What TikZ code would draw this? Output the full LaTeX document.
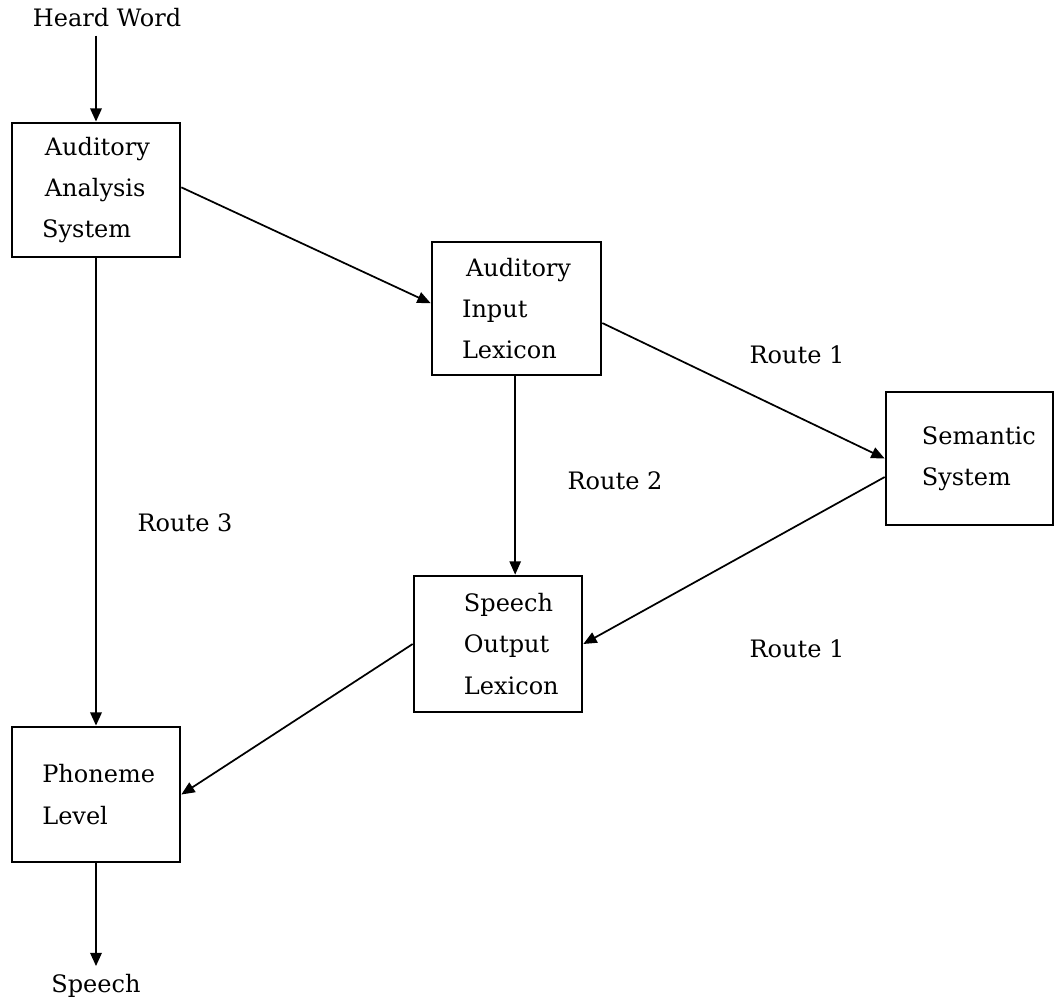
\documentclass[tikz,border=0pt]{standalone}
\usepackage{fontspec}
\setmainfont{DejaVu Serif}
\usetikzlibrary{arrows.meta}
\begin{document}
\begin{tikzpicture}[x=0.75pt,y=-0.75pt,
  every node/.style={font=\fontsize{18pt}{31pt}\selectfont},
  box/.style={draw=black,line width=2pt,rectangle,align=left,inner sep=0pt},
  txt/.style={inner sep=0pt},
  arr/.style={line width=1.3pt,-{Triangle[length=10pt,width=8.5pt]}},
  varr/.style={line width=1.8pt,-{Triangle[length=10pt,width=8.5pt]}}]
\useasboundingbox (0,0) rectangle (1056,1001);
\fill[white] (0,0) rectangle (1056,1001);
\node[box,minimum width=126pt,minimum height=100.5pt] (aas) at (96,190) {\hspace*{2pt}Auditory\\\hspace*{2pt}Analysis\\System};
\node[box,minimum width=126.75pt,minimum height=99.75pt] (ail) at (516.5,308.5) {\hspace*{3pt}Auditory\\Input\\Lexicon};
\node[box,minimum width=125.25pt,minimum height=99.75pt] (sem) at (969.5,458.5) {\hspace*{14pt}Semantic\\\hspace*{14pt}System};
\node[box,minimum width=126pt,minimum height=102pt] (sol) at (498,644) {\hspace*{20pt}Speech\\\hspace*{20pt}Output\\\hspace*{20pt}Lexicon};
\node[box,minimum width=126pt,minimum height=101.25pt] (pho) at (96,794.5) {\hspace*{4pt}Phoneme\\\hspace*{4pt}Level};
\node[txt] (hw) at (107,18) {Heard Word};
\node[txt] (sp) at (96,986) {Speech};
\node[txt] (r1a) at (797,355) {Route 1};
\node[txt] (r2) at (615,481) {Route 2};
\node[txt] (r3) at (185,523) {Route 3};
\node[txt] (r1b) at (797,649) {Route 1};
\draw[varr] (aas.north |- hw.south) ++(0,8) -- (aas.north);
\draw[arr] ([yshift=2pt]aas.east) -- ([yshift=4pt]ail.west);
\draw[arr] ([yshift=-10.9pt]ail.east) -- (sem.west);
\draw[arr] ([xshift=-1pt]ail.south) -- ([xshift=-1pt]ail.south |- sol.north);
\draw[arr] ([yshift=-13.9pt]sem.west) -- (sol.east);
\draw[arr] (sol.west) -- (pho.east);
\draw[varr] (aas.south) -- (pho.north);
\draw[varr] (pho.south) -- ([yshift=6pt]sp.north);
\end{tikzpicture}
\end{document}
